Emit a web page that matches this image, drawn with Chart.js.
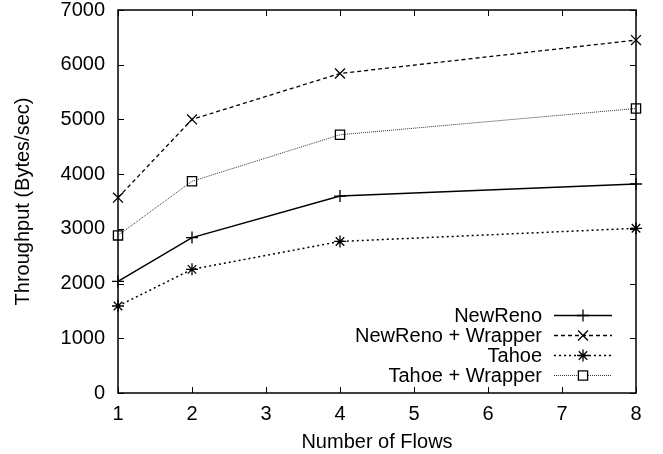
<!DOCTYPE html>
<html>
<head>
<meta charset="utf-8">
<script src="https://cdn.jsdelivr.net/npm/chart.js@4/dist/chart.umd.min.js"></script>
<style>
  html, body { margin: 0; padding: 0; background: #fff; }
  #wrap { width: 663px; height: 454px; }
</style>
</head>
<body>
<div id="wrap"><canvas id="tputChart"></canvas></div>
<script>
// flows on the x axis
const flows = [1, 2, 4, 8];
const xTicks = [1, 2, 3, 4, 5, 6, 7, 8];
const yTicks = [0, 1000, 2000, 3000, 4000, 5000, 6000, 7000];

const newReno = [2040, 2840, 3600, 3820];
const newRenoWrapper = [3570, 5000, 5840, 6450];
const tahoe = [1590, 2260, 2770, 3010];
const tahoeWrapper = [2880, 3870, 4720, 5200];

const FONT = "'Liberation Sans', Arial, Helvetica, sans-serif";
const FSIZE = 20;

function toPoints(vals) {
  return flows.map((f, i) => ({ x: f, y: vals[i] }));
}

// gnuplot style frame: box + inward ticks on all four sides
const framePlugin = {
  id: 'frame',
  beforeDatasetsDraw(chart) {
    const { ctx, chartArea: a, scales } = chart;
    ctx.save();
    ctx.strokeStyle = '#000';
    ctx.lineWidth = 1.5;
    ctx.strokeRect(a.left, a.top, a.right - a.left, a.bottom - a.top);
    ctx.lineWidth = 1;
    ctx.beginPath();
    const len = 6;
    xTicks.forEach(v => {
      const px = Math.round(scales.x.getPixelForValue(v)) + 0.5;
      ctx.moveTo(px, a.bottom); ctx.lineTo(px, a.bottom - len);
      ctx.moveTo(px, a.top); ctx.lineTo(px, a.top + len);
    });
    yTicks.forEach(v => {
      const py = Math.round(scales.y.getPixelForValue(v)) + 0.5;
      ctx.moveTo(a.left, py); ctx.lineTo(a.left + len, py);
      ctx.moveTo(a.right, py); ctx.lineTo(a.right - len, py);
    });
    ctx.stroke();
    ctx.restore();
  }
};

// legend in the lower right corner: text right aligned, sample line to its right
const keyPlugin = {
  id: 'key',
  afterDatasetsDraw(chart) {
    const { ctx } = chart;
    const textRight = 542;
    const lineX0 = 554, lineX1 = 612, markX = 583;
    const rowY0 = 315, rowH = 20;
    ctx.save();
    ctx.font = FSIZE + 'px ' + FONT;
    ctx.textAlign = 'right';
    ctx.textBaseline = 'middle';
    chart.data.datasets.forEach((ds, i) => {
      const y = rowY0 + i * rowH;
      ctx.fillStyle = '#fff';
      ctx.fillRect(lineX0 - 2, y - 8, lineX1 - lineX0 + 4, 16);
      ctx.fillStyle = '#000';
      ctx.fillText(ds.label, textRight, y + 1);
      ctx.strokeStyle = ds.borderColor;
      ctx.lineWidth = ds.borderWidth;
      ctx.setLineDash(ds.borderDash || []);
      ctx.beginPath();
      ctx.moveTo(lineX0, y + 0.5);
      ctx.lineTo(lineX1, y + 0.5);
      ctx.stroke();
      ctx.setLineDash([]);
      ctx.lineWidth = 1.3;
      ctx.strokeStyle = '#000';
      ctx.fillStyle = '#fff';
      Chart.helpers.drawPoint(ctx, {
        pointStyle: ds.pointStyle, radius: ds.pointRadius, borderWidth: 1.3
      }, markX, y + 0.5);
    });
    ctx.restore();
  }
};

const series = [
  { label: 'NewReno', data: toPoints(newReno), borderDash: [], borderWidth: 1.5,
    pointStyle: 'cross', pointRadius: 6, color: '#000' },
  { label: 'NewReno + Wrapper', data: toPoints(newRenoWrapper), borderDash: [4, 3], borderWidth: 1.3,
    pointStyle: 'crossRot', pointRadius: 7, color: '#000' },
  { label: 'Tahoe', data: toPoints(tahoe), borderDash: [2, 3], borderWidth: 1.5,
    pointStyle: 'star', pointRadius: 6, color: '#000' },
  { label: 'Tahoe + Wrapper', data: toPoints(tahoeWrapper), borderDash: [1, 1], borderWidth: 1,
    pointStyle: 'rect', pointRadius: 6.5, color: '#333' }
];

new Chart(document.getElementById('tputChart'), {
  type: 'line',
  data: {
    datasets: series.map(s => ({
      label: s.label,
      data: s.data,
      borderColor: s.color,
      borderWidth: s.borderWidth,
      borderDash: s.borderDash,
      pointStyle: s.pointStyle,
      pointRadius: s.pointRadius,
      pointBorderColor: '#000',
      pointBackgroundColor: 'rgba(0,0,0,0)',
      pointBorderWidth: 1.3,
      tension: 0,
      fill: false,
      clip: false
    }))
  },
  options: {
    responsive: true,
    maintainAspectRatio: false,
    animation: false,
    layout: { padding: { top: 10, right: 27, left: 0, bottom: 0 } },
    plugins: { legend: { display: false }, tooltip: { enabled: false } },
    scales: {
      x: {
        type: 'linear',
        min: 1, max: 8,
        afterBuildTicks(scale) { scale.ticks = xTicks.map(v => ({ value: v })); },
        afterFit(scale) { scale.height = 61; scale.paddingLeft = 0; scale.paddingRight = 0; },
        grid: { display: false, drawTicks: false },
        border: { display: false },
        ticks: { color: '#000', padding: 9, callback: v => String(v),
          font: { family: FONT, size: FSIZE } },
        title: { display: true, text: 'Number of Flows', color: '#000',
          font: { family: FONT, size: FSIZE }, padding: { top: 4, bottom: 0 } }
      },
      y: {
        min: 0, max: 7000,
        afterBuildTicks(scale) { scale.ticks = yTicks.map(v => ({ value: v })); },
        afterFit(scale) { scale.width = 118; scale.paddingTop = 0; scale.paddingBottom = 0; },
        grid: { display: false, drawTicks: false },
        border: { display: false },
        ticks: { color: '#000', padding: 13, callback: v => String(v),
          font: { family: FONT, size: FSIZE } },
        title: { display: true, text: 'Throughput (Bytes/sec)', color: '#000',
          font: { family: FONT, size: FSIZE }, padding: { top: 11, bottom: 0 } }
      }
    }
  },
  plugins: [framePlugin, keyPlugin]
});
</script>
</body>
</html>
